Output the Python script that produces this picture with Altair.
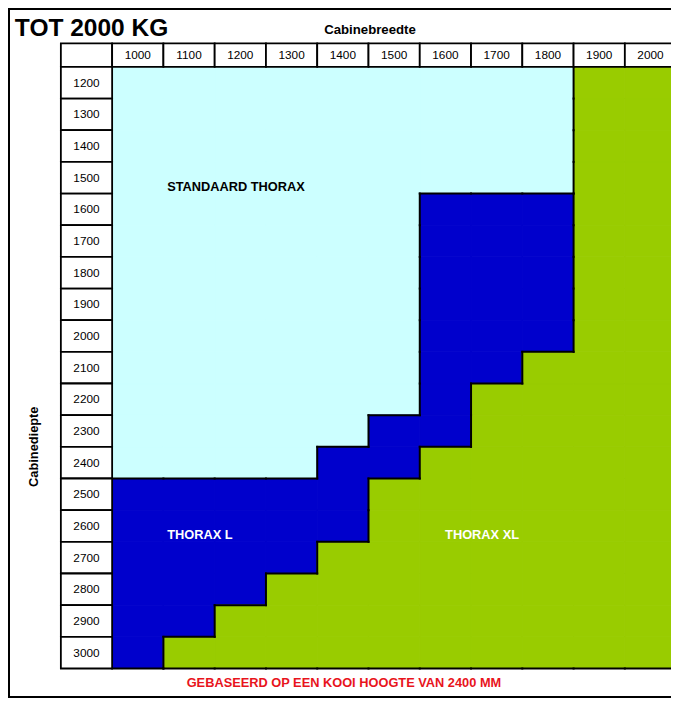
import altair as alt
import pandas as pd

# ---------------- data ----------------
columns = [1000, 1100, 1200, 1300, 1400, 1500, 1600, 1700, 1800, 1900, 2000]
rows = [1200, 1300, 1400, 1500, 1600, 1700, 1800, 1900, 2000, 2100,
        2200, 2300, 2400, 2500, 2600, 2700, 2800, 2900, 3000]
# first depth (row) at which each width (column) switches to THORAX L / THORAX XL
l_start = [2500, 2500, 2500, 2500, 2400, 2300, 1600, 1600, 1600, 1200, 1200]
xl_start = [3100, 3000, 2900, 2800, 2700, 2500, 2400, 2200, 2100, 1200, 1200]
category_names = ["STANDAARD THORAX", "THORAX L", "THORAX XL"]
category_colors = ["#CCFFFF", "#0000CC", "#99CC00"]

title_text = "TOT 2000 KG"
x_title = "Cabinebreedte"
y_title = "Cabinediepte"
footer_text = "GEBASEERD OP EEN KOOI HOOGTE VAN 2400 MM"

# ---------------- layout ----------------
W, H = 663, 690
STEP = 100
HALF = STEP / 2
x_dom = [746.9, 2040.0]
y_dom = [964.0, 3143.2]
header_top = 1075.6
header_bottom = rows[0] - HALF
label_col = columns[0] - STEP  # label column centre
FONT = "Liberation Sans, Arial, Helvetica, sans-serif"

xs = alt.Scale(domain=x_dom, nice=False, zero=False)
ys = alt.Scale(domain=y_dom, nice=False, zero=False, reverse=True)


def X(f):
    return alt.X(f, type="quantitative", scale=xs, axis=None)


def Y(f):
    return alt.Y(f, type="quantitative", scale=ys, axis=None)


def category(ci, r):
    if r >= xl_start[ci]:
        return category_names[2]
    if r >= l_start[ci]:
        return category_names[1]
    return category_names[0]


grid = [[category(ci, r) for r in rows] for ci in range(len(columns))]

cells = pd.DataFrame([
    {"x1": c - HALF, "x2": c + HALF, "y1": r - HALF, "y2": r + HALF, "cat": grid[ci][ri]}
    for ci, c in enumerate(columns) for ri, r in enumerate(rows)
])

# boundary segments between different regions
segs = []
for ci, c in enumerate(columns):
    for ri, r in enumerate(rows):
        k = grid[ci][ri]
        if ci + 1 < len(columns) and grid[ci + 1][ri] != k:
            segs.append({"x1": c + HALF, "x2": c + HALF, "y1": r - HALF, "y2": r + HALF})
        if ri + 1 < len(rows) and grid[ci][ri + 1] != k:
            segs.append({"x1": c - HALF, "x2": c + HALF, "y1": r + HALF, "y2": r + HALF})
        if ri == len(rows) - 1:
            segs.append({"x1": c - HALF, "x2": c + HALF, "y1": r + HALF, "y2": r + HALF})
segs = pd.DataFrame(segs)

header = pd.DataFrame({
    "x1": [label_col - HALF] + [c - HALF for c in columns],
    "x2": [label_col + HALF] + [c + HALF for c in columns],
    "y1": header_top, "y2": header_bottom,
    "xc": [label_col] + columns,
    "yc": (header_top + header_bottom) / 2,
    "lab": [""] + [str(c) for c in columns],
})
side = pd.DataFrame({
    "x1": label_col - HALF, "x2": label_col + HALF,
    "y1": [r - HALF for r in rows], "y2": [r + HALF for r in rows],
    "xc": label_col, "yc": rows, "lab": [str(r) for r in rows],
})

cat_scale = alt.Scale(domain=category_names, range=category_colors)
base_cells = alt.Chart(cells).mark_rect(clip=True, strokeWidth=1).encode(
    x=X("x1"), x2="x2", y=Y("y1"), y2="y2",
    color=alt.Color("cat:N", scale=cat_scale, legend=None),
    stroke=alt.Stroke("cat:N", scale=cat_scale, legend=None),
)

rules = alt.Chart(segs).mark_rule(color="black", strokeWidth=2, strokeCap="square", clip=True).encode(
    x=X("x1"), x2="x2", y=Y("y1"), y2="y2"
)

header_rects = alt.Chart(header).mark_rect(fill="white", stroke="black", strokeWidth=1.8, clip=True).encode(
    x=X("x1"), x2="x2", y=Y("y1"), y2="y2"
)
header_text = alt.Chart(header).mark_text(font=FONT, fontSize=11.8, color="black", baseline="middle", clip=True).encode(
    x=X("xc"), y=Y("yc"), text="lab:N"
)
side_rects = alt.Chart(side).mark_rect(fill="white", stroke="black", strokeWidth=1.8).encode(
    x=X("x1"), x2="x2", y=Y("y1"), y2="y2"
)
side_text = alt.Chart(side).mark_text(font=FONT, fontSize=11.8, color="black", baseline="middle").encode(
    x=X("xc"), y=Y("yc"), text="lab:N"
)

notes = pd.DataFrame([
    {"t": title_text, "x": 760.3, "y": 1053.9, "size": 24.5, "col": "black", "align": "left"},
    {"t": x_title, "x": 1452.9, "y": 1044.6, "size": 13.2, "col": "black", "align": "center"},
    {"t": category_names[0], "x": 1057.3, "y": 1540.6, "size": 12.8, "col": "black", "align": "left"},
    {"t": category_names[1], "x": 1057.3, "y": 2641.0, "size": 12.8, "col": "white", "align": "left"},
    {"t": category_names[2], "x": 1599.4, "y": 2641.0, "size": 12.8, "col": "white", "align": "left"},
    {"t": footer_text, "x": 1402.1, "y": 3109.0, "size": 12.8, "col": "#E8141C", "align": "center"},
])


def note(i):
    n = notes.iloc[[i]]
    row = notes.iloc[i]
    return alt.Chart(n).mark_text(
        font=FONT, fontWeight="bold", fontSize=float(row["size"]), color=row["col"],
        align=row["align"], baseline="alphabetic"
    ).encode(x=X("x"), y=Y("y"), text="t:N")


notes_layers = [note(i) for i in range(len(notes))]

ytitle = alt.Chart(pd.DataFrame({"t": [y_title], "x": [796.7], "y": [2349.6]})).mark_text(
    font=FONT, fontWeight="bold", fontSize=12.8, color="black", angle=270,
    align="center", baseline="middle"
).encode(x=X("x"), y=Y("y"), text="t:N")

one = pd.DataFrame({"a": [0]})
frame_left = alt.Chart(one).mark_rule(color="black", strokeWidth=2).encode(
    x=alt.value(1), y=alt.value(0), y2=alt.value(H))
frame_top = alt.Chart(one).mark_rule(color="black", strokeWidth=2).encode(
    y=alt.value(1), x=alt.value(0), x2=alt.value(W))
frame_bottom = alt.Chart(one).mark_rule(color="black", strokeWidth=2).encode(
    y=alt.value(H - 1), x=alt.value(0), x2=alt.value(W))

chart = alt.layer(
    base_cells, rules, header_rects, header_text, side_rects, side_text,
    *notes_layers, ytitle, frame_left, frame_top, frame_bottom
).properties(
    width=W, height=H, padding=0, autosize=alt.AutoSizeParams(type="none"),
    background="white"
).configure_view(stroke=None)

chart.save("out.html", embed_options={"renderer": "svg", "actions": False})
